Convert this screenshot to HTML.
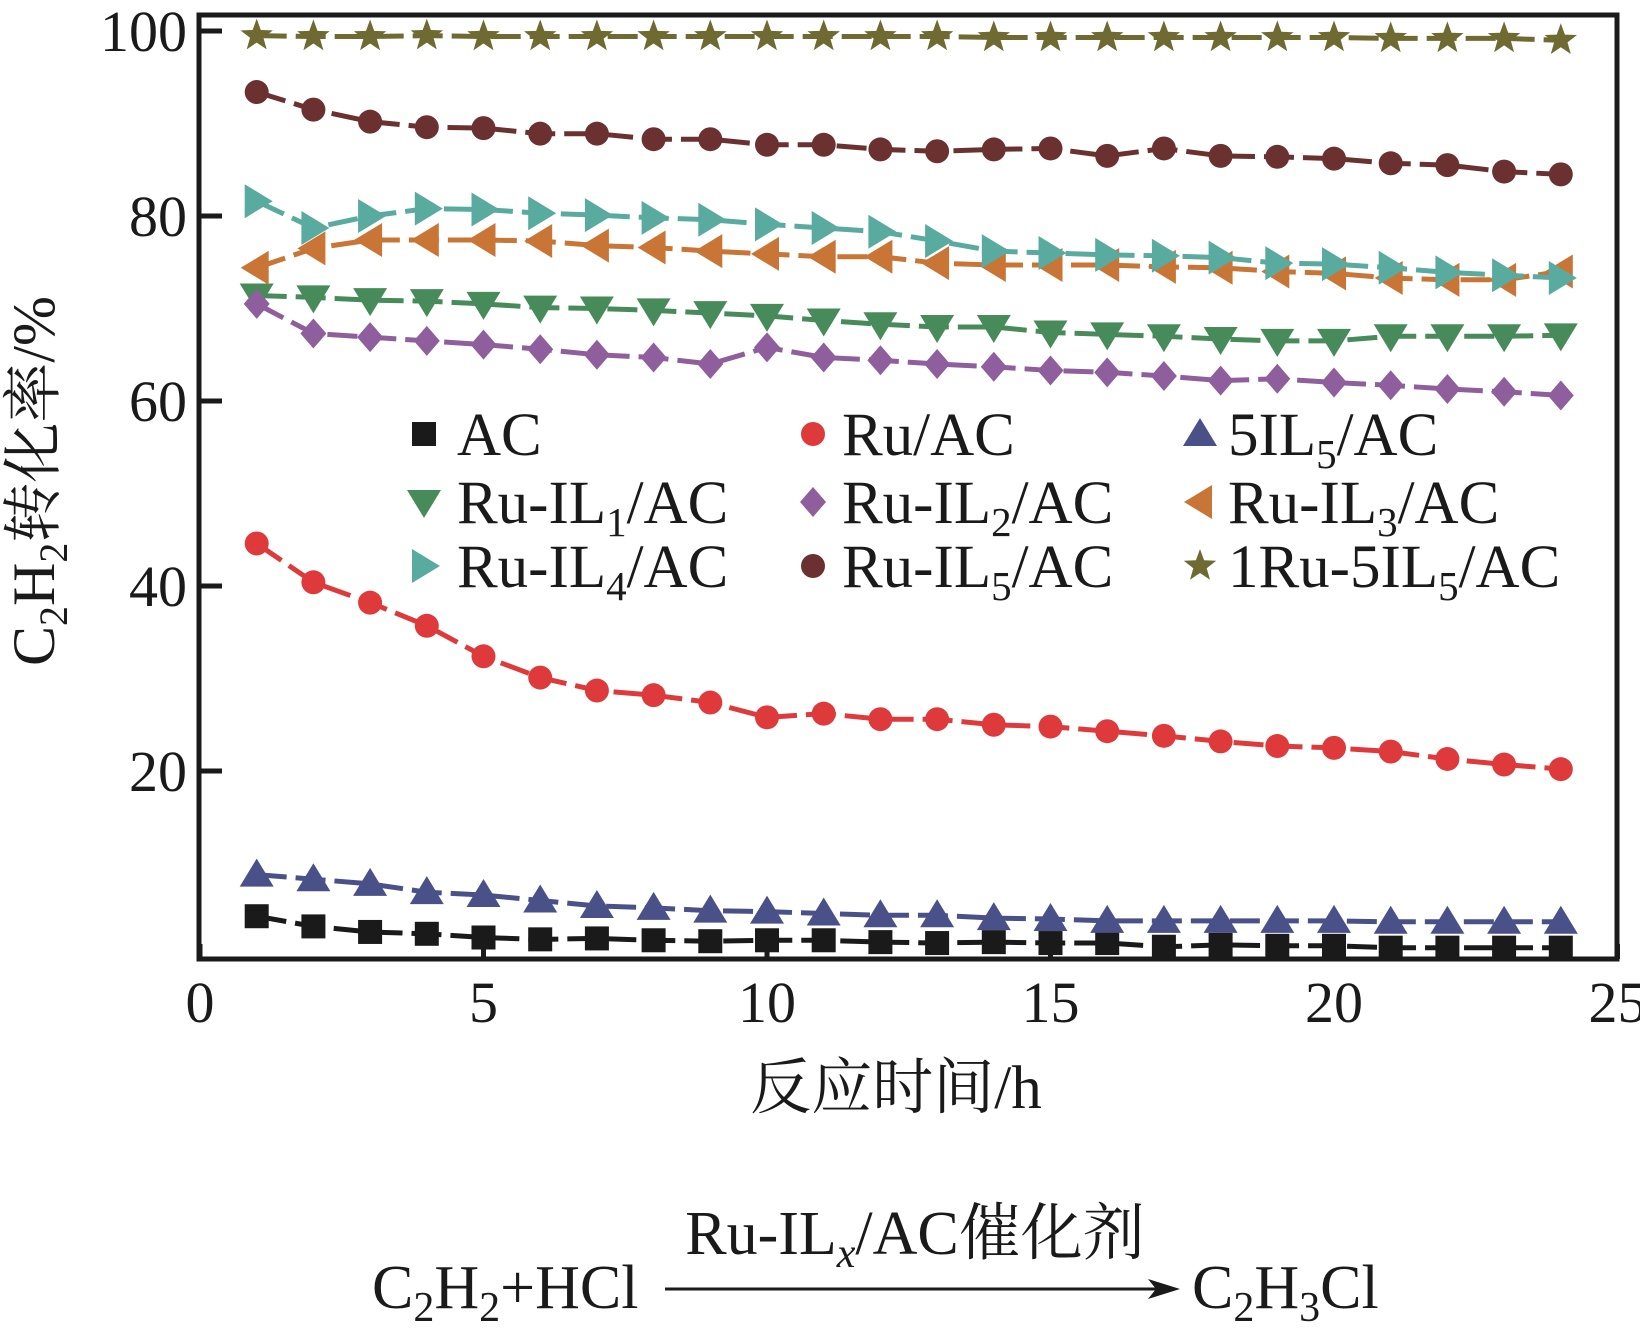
<!DOCTYPE html>
<html><head><meta charset="utf-8">
<style>
html,body{margin:0;padding:0;background:#fff;}
svg{display:block;}
text{font-family:"Liberation Serif","Noto Serif CJK SC",serif;fill:#1a1a1a;}
</style></head>
<body>
<svg id="chart" width="1640" height="1343" viewBox="0 0 1640 1343" xmlns="http://www.w3.org/2000/svg">
<g id="marks"></g>
<rect x="199" y="15" width="1418" height="944" fill="none" stroke="#1a1a1a" stroke-width="5"/>
<g id="axes"></g>
<text x="0" y="0" font-size="60" text-anchor="middle" transform="translate(54,481) rotate(-90)">C<tspan font-size="40" dy="13">2</tspan><tspan dy="-13">H</tspan><tspan font-size="40" dy="13">2</tspan><tspan dy="-13">转化率/%</tspan></text>
<text x="896" y="1108" font-size="61" text-anchor="middle">反应时间/h</text>
<g id="legend"></g>
<g>
<text x="372" y="1308" font-size="62">C<tspan font-size="42" dy="13">2</tspan><tspan dy="-13">H</tspan><tspan font-size="42" dy="13">2</tspan><tspan dy="-13">+HCl</tspan></text>
<line x1="665" y1="1289" x2="1160" y2="1289" stroke="#1a1a1a" stroke-width="3"/>
<polygon points="1180,1289 1148,1279 1156,1289 1148,1299" fill="#1a1a1a"/>
<text x="915" y="1254" font-size="62" text-anchor="middle">Ru-IL<tspan font-style="italic" font-size="42" dy="13">x</tspan><tspan dy="-13">/AC催化剂</tspan></text>
<text x="1192" y="1308" font-size="62">C<tspan font-size="42" dy="13">2</tspan><tspan dy="-13">H</tspan><tspan font-size="42" dy="13">3</tspan><tspan dy="-13">Cl</tspan></text>
</g>
</svg>
<script>
const hours = [1,2,3,4,5,6,7,8,9,10,11,12,13,14,15,16,17,18,19,20,21,22,23,24];
const xTicks = [0,5,10,15,20,25];
const yTicks = [20,40,60,80,100];
const acVals = [4.3,3.2,2.6,2.4,2.0,1.8,1.9,1.7,1.6,1.7,1.7,1.5,1.4,1.5,1.4,1.4,1.0,1.2,1.1,1.1,0.9,0.9,0.9,0.9];
const ruVals = [44.6,40.4,38.2,35.7,32.4,30.1,28.7,28.2,27.4,25.8,26.2,25.6,25.6,25.0,24.8,24.3,23.8,23.2,22.7,22.5,22.1,21.3,20.7,20.2];
const il5Vals = [8.8,8.3,7.8,6.9,6.6,6.0,5.4,5.2,4.9,4.8,4.6,4.4,4.4,4.1,4.0,3.8,3.8,3.8,3.8,3.8,3.7,3.7,3.7,3.7];
const ruIl1Vals = [71.4,71.2,70.9,70.8,70.5,70.1,70.0,69.8,69.5,69.2,68.7,68.3,68.0,68.0,67.4,67.2,67.0,66.7,66.5,66.5,67.0,67.0,67.0,67.1];
const ruIl2Vals = [70.5,67.3,66.9,66.5,66.1,65.6,65.0,64.7,64.0,65.8,64.7,64.4,64.0,63.7,63.3,63.1,62.7,62.2,62.4,62.0,61.7,61.3,61.0,60.6];
const ruIl3Vals = [74.4,76.5,77.4,77.4,77.4,77.3,76.8,76.6,76.2,75.9,75.6,75.6,74.9,74.7,74.7,74.7,74.5,74.4,74.0,73.8,73.3,73.1,73.1,74.0];
const ruIl4Vals = [81.6,78.7,80.0,80.8,80.7,80.3,80.1,79.8,79.6,79.1,78.7,78.3,77.3,76.2,76.0,75.8,75.7,75.5,74.9,74.8,74.4,73.9,73.6,73.3];
const ruIl5Vals = [93.4,91.5,90.2,89.6,89.5,88.9,88.9,88.3,88.3,87.7,87.7,87.2,87.0,87.2,87.3,86.5,87.3,86.5,86.4,86.2,85.7,85.5,84.8,84.5];
const ru5Il5Vals = [99.5,99.4,99.4,99.5,99.4,99.4,99.4,99.4,99.4,99.4,99.4,99.4,99.4,99.3,99.3,99.3,99.3,99.3,99.3,99.3,99.2,99.2,99.2,99.0];

const NS="http://www.w3.org/2000/svg";
const xS = v => 200 + v*56.7;
const yS = v => 956 - v*9.25;
function mk(tag, attrs, parent){const e=document.createElementNS(NS,tag);for(const k in attrs)e.setAttribute(k,attrs[k]);parent.appendChild(e);return e;}

function marker(shape, cx, cy, color, parent){
  let e;
  if(shape==='square') e=mk('rect',{x:cx-12,y:cy-12,width:24,height:24,fill:color},parent);
  else if(shape==='circle') e=mk('circle',{cx:cx,cy:cy,r:12,fill:color},parent);
  else if(shape==='up') e=mk('polygon',{points:`${cx},${cy-16} ${cx+17},${cy+12} ${cx-17},${cy+12}`,fill:color},parent);
  else if(shape==='down') e=mk('polygon',{points:`${cx},${cy+16} ${cx+17},${cy-12} ${cx-17},${cy-12}`,fill:color},parent);
  else if(shape==='left') e=mk('polygon',{points:`${cx-16},${cy} ${cx+12},${cy-17} ${cx+12},${cy+17}`,fill:color},parent);
  else if(shape==='right') e=mk('polygon',{points:`${cx+16},${cy} ${cx-12},${cy-17} ${cx-12},${cy+17}`,fill:color},parent);
  else if(shape==='diamond') e=mk('polygon',{points:`${cx},${cy-15} ${cx+13},${cy} ${cx},${cy+15} ${cx-13},${cy}`,fill:color},parent);
  else { let p=[];for(let i=0;i<10;i++){const r=i%2?7:17;const a=-Math.PI/2+i*Math.PI/5;p.push((cx+r*Math.cos(a)).toFixed(1)+','+(cy+r*Math.sin(a)).toFixed(1));}
    e=mk('polygon',{points:p.join(' '),fill:color},parent);}
  return e;
}

const series = [
  {name:'ac', vals:acVals, color:'#1a1a1a', shape:'square'},
  {name:'ru-ac', vals:ruVals, color:'#df3a3b', shape:'circle'},
  {name:'5il5-ac', vals:il5Vals, color:'#4a5088', shape:'up'},
  {name:'ru-il1-ac', vals:ruIl1Vals, color:'#488b5a', shape:'down'},
  {name:'ru-il2-ac', vals:ruIl2Vals, color:'#8e5f9c', shape:'diamond'},
  {name:'ru-il3-ac', vals:ruIl3Vals, color:'#c97535', shape:'left'},
  {name:'ru-il4-ac', vals:ruIl4Vals, color:'#5aab9f', shape:'right'},
  {name:'ru-il5-ac', vals:ruIl5Vals, color:'#6b3131', shape:'circle'},
  {name:'1ru-5il5-ac', vals:ru5Il5Vals, color:'#6e6a32', shape:'star'}
];
const marks=document.getElementById('marks');
series.forEach(s=>{
  const g=mk('g',{},marks);
  
  
  const pts=hours.map((h,i)=>xS(h).toFixed(1)+','+yS(s.vals[i]).toFixed(1)).join(' ');
  const pl=mk('polyline',{points:pts,fill:'none',stroke:s.color,'stroke-width':5,'stroke-dasharray':'30 9'},g);
  
  
  hours.forEach((h,i)=>{
    const m=marker(s.shape,xS(h),yS(s.vals[i]),s.color,g);
    
    
  });
});

const axes=document.getElementById('axes');
xTicks.forEach(t=>{
  const l=mk('line',{x1:xS(t),x2:xS(t),y1:959,y2:944,stroke:'#1a1a1a','stroke-width':5},axes);
  
  
  const tx=mk('text',{x:xS(t),y:1022,'font-size':58,'text-anchor':'middle'},axes);
  tx.textContent=t;
  
  
});
yTicks.forEach(t=>{
  const l=mk('line',{x1:199,x2:222,y1:yS(t),y2:yS(t),stroke:'#1a1a1a','stroke-width':5},axes);
  
  
  const tx=mk('text',{x:187,y:yS(t)+20,'font-size':58,'text-anchor':'end'},axes);
  tx.textContent=t;
  
  
});

const legendLabels=[['AC',''],['Ru/AC',''],['5IL','5','/AC'],['Ru-IL','1','/AC'],['Ru-IL','2','/AC'],['Ru-IL','3','/AC'],['Ru-IL','4','/AC'],['Ru-IL','5','/AC'],['1Ru-5IL','5','/AC']];
const colMx=[424,813,1200], colTx=[457,842,1228], rowY=[434,502,566];
const lg=document.getElementById('legend');
series.forEach((s,i)=>{
  const r=Math.floor(i/3), c=i%3;
  const g=mk('g',{},lg);
  
  
  marker(s.shape,colMx[c],rowY[r],s.color,g);
  const t=mk('text',{x:colTx[c],y:rowY[r]+21,'font-size':61},g);
  const L=legendLabels[i];
  if(L.length===3){
    t.appendChild(document.createTextNode(L[0]));
    const sub=mk('tspan',{'font-size':41,dy:13},t); sub.textContent=L[1];
    const rest=mk('tspan',{dy:-13},t); rest.textContent=L[2];
  } else t.textContent=L[0];
});
</script>
</body></html>
